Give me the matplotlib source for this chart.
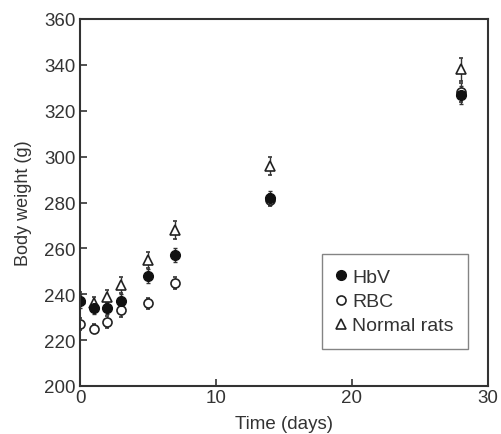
import matplotlib
matplotlib.use("Agg")
import matplotlib.pyplot as plt

days = [0, 1, 2, 3, 5, 7, 14, 28]
hbv = [237, 234, 234, 237, 248, 257, 282, 327]
hbv_err = [3, 2.5, 2.5, 3, 3, 3, 3, 4]
rbc = [227, 225, 228, 233, 236, 245, 281, 328]
rbc_err = [2.5, 2, 2.5, 3, 2.5, 2.5, 2.5, 4]
normal = [238, 236, 239, 244, 255, 268, 296, 338]
normal_err = [3, 3, 3, 3.5, 3.5, 4, 4, 5]

xticks = [0, 10, 20, 30]
yticks = [200, 220, 240, 260, 280, 300, 320, 340, 360]

plt.rcParams['font.family'] = ['Liberation Sans', 'DejaVu Sans']
tc = '#333333'

fig = plt.figure(figsize=(5.01, 4.35), dpi=100)
ax = fig.add_axes([80/501, 1-387/435, 408/501, 367/435])

ekw = dict(ls='none', ecolor='#333333', elinewidth=1.0, capsize=1.5, capthick=1.0)
ax.errorbar(days, normal, yerr=normal_err, marker='^', ms=6.5, mfc='white', mec='#222222', mew=1.2, label='Normal rats', **ekw)
ax.errorbar(days, rbc, yerr=rbc_err, marker='o', ms=6.5, mfc='white', mec='#222222', mew=1.2, label='RBC', **ekw)
ax.errorbar(days, hbv, yerr=hbv_err, marker='o', ms=7, mfc='#111111', mec='#111111', mew=1.0, label='HbV', **ekw)

ax.set_xlim(0, 30)
ax.set_ylim(200, 360)
ax.set_xticks(xticks)
ax.set_yticks(yticks)
ax.tick_params(direction='in', length=5, width=1.2, colors='#333333', labelcolor=tc, labelsize=13.5)
ax.tick_params(axis='x', pad=2)
ax.tick_params(axis='y', pad=3)
for s in ax.spines.values():
    s.set_linewidth(1.5)
    s.set_color('#333333')
ax.set_xlabel('Time (days)', fontsize=13.5, color=tc, labelpad=7)
ax.set_ylabel('Body weight (g)', fontsize=13, color=tc, labelpad=9)

h, l = ax.get_legend_handles_labels()
order = [2, 1, 0]
leg = ax.legend([h[i][0] for i in order], [l[i] for i in order],
                loc='lower right', bbox_to_anchor=(0.951, 0.101), borderaxespad=0,
                frameon=True, fancybox=False,
                edgecolor='#666666', fontsize=14, handlelength=0.5, handletextpad=0.3,
                labelspacing=0.33, borderpad=0.75, labelcolor=tc)
leg.get_frame().set_linewidth(1.0)

fig.savefig('out.png', dpi=100)
